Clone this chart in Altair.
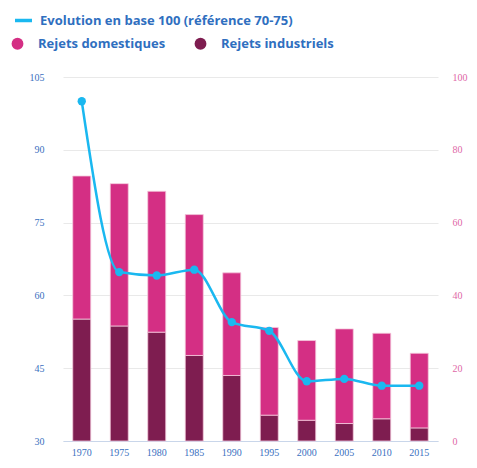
import altair as alt
import pandas as pd

years = ["1970", "1975", "1980", "1985", "1990", "1995", "2000", "2005", "2010", "2015"]
industriels = [33.5, 31.6, 29.9, 23.5, 18.0, 7.1, 5.7, 4.8, 6.1, 3.6]
totaux = [72.8, 70.7, 68.6, 62.2, 46.2, 31.2, 27.6, 30.8, 29.6, 24.1]
domestiques = [round(t - i, 1) for t, i in zip(totaux, industriels)]
evolution = [100.0, 64.8, 64.1, 65.3, 54.5, 52.7, 42.3, 42.8, 41.4, 41.4]

LINE_NAME = "Evolution en base 100 (référence 70-75)"
DOM = "Rejets domestiques"
IND = "Rejets industriels"

rows = []
for y, d, i in zip(years, domestiques, industriels):
    rows.append({"annee": y, "type": IND, "valeur": i, "ordre": 0})
    rows.append({"annee": y, "type": DOM, "valeur": d, "ordre": 1})
bars_df = pd.DataFrame(rows)
line_df = pd.DataFrame({"annee": years, "evolution": evolution, "serie": LINE_NAME})

PINK = "#d42f84"
DARK = "#7e1d50"
BLUE = "#1ab8f0"
TXT = "#2f6fbf"

xenc = alt.X("annee:N", sort=years, title=None,
             scale=alt.Scale(paddingInner=0.52, paddingOuter=0.26),
             axis=alt.Axis(labelAngle=0, ticks=False, domain=True, domainColor="#c9d6ea",
                           labelFont="Liberation Serif", labelFontSize=10, labelColor="#3a70c0",
                           labelPadding=6, grid=False))

bars = alt.Chart(bars_df).mark_bar(stroke="#f4c9dc", strokeWidth=0.8).encode(
    x=xenc,
    y=alt.Y("valeur:Q", stack="zero", title=None,
            scale=alt.Scale(domain=[0, 100], nice=False),
            axis=alt.Axis(orient="right", values=[0, 20, 40, 60, 80, 100], ticks=False, domain=False,
                          labelFont="Liberation Serif", labelFontSize=10, labelColor="#e068a8",
                          labelPadding=14, grid=True, gridColor="#e9e9e9")),
    color=alt.Color("type:N", scale=alt.Scale(domain=[DOM, IND], range=[PINK, DARK]),
                    legend=alt.Legend(orient="none", legendX=-52, legendY=-40, direction="horizontal",
                                      columns=2, title=None, symbolType="circle", symbolSize=140,
                                      labelFont="Open Sans", labelFontWeight="bold", labelFontSize=13,
                                      labelColor=TXT, columnPadding=28, labelOffset=14, labelLimit=0,
                                      symbolStrokeWidth=0, padding=0)),
    order=alt.Order("ordre:Q"),
)

yline = alt.Y("evolution:Q", title=None,
              scale=alt.Scale(domain=[30, 105], nice=False),
              axis=alt.Axis(orient="left", values=[30, 45, 60, 75, 90, 105], ticks=False, domain=False,
                            labelFont="Liberation Serif", labelFontSize=10, labelColor="#3a70c0",
                            labelPadding=19, grid=False))

line = alt.Chart(line_df).mark_line(interpolate="monotone", strokeWidth=2.5).encode(
    x=alt.X("annee:N", sort=years),
    y=yline,
    stroke=alt.Stroke("serie:N", scale=alt.Scale(domain=[LINE_NAME], range=[BLUE]),
                      legend=alt.Legend(orient="none", legendX=-50, legendY=-67, title=None,
                                        symbolType="stroke", symbolSize=289, symbolStrokeWidth=3.5,
                                        labelFont="Open Sans", labelFontWeight="bold", labelFontSize=13,
                                        labelColor=TXT, labelOffset=6, labelLimit=0, padding=0)),
)

points = alt.Chart(line_df).mark_circle(size=70, opacity=1, color=BLUE).encode(
    x=alt.X("annee:N", sort=years),
    y=yline,
)

chart = alt.layer(bars, alt.layer(line, points)).resolve_scale(
    y="independent", color="independent", stroke="independent"
).properties(
    width=375, height=364,
    background="white",
    autosize=alt.AutoSizeParams(type="none"),
    padding={"left": 55, "top": 69, "right": 31, "bottom": 19},
).configure_view(stroke=None, strokeWidth=0)

chart.save("out.html", embed_options={"renderer": "svg", "actions": False})
